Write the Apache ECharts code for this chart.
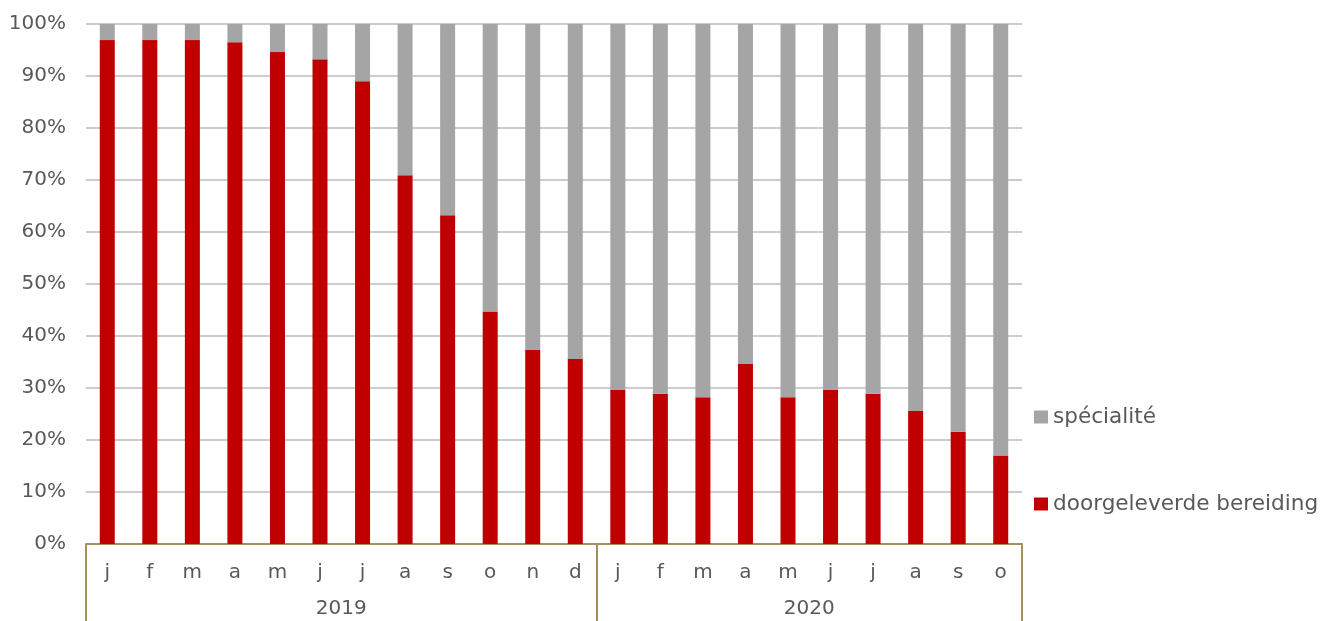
<!DOCTYPE html>
<html>
<head>
<meta charset="utf-8">
<script src="https://cdn.jsdelivr.net/npm/echarts@6/dist/echarts.min.js"></script>
<style>html,body{margin:0;padding:0;background:#fff;}#c{width:1324px;height:621px;}</style>
</head>
<body>
<div id="c"></div>
<script>
const months = ['j','f','m','a','m','j','j','a','s','o','n','d','j','f','m','a','m','j','j','a','s','o'];
const years = ['2019','2020'];
const yearCenters = [6, 17];
const yearBreaks = 12;
const doorgeleverde = [96.9,96.9,96.9,96.5,94.6,93.2,89.0,70.9,63.2,44.7,37.3,35.6,29.6,28.9,28.2,34.6,28.2,29.6,28.9,25.6,21.6,17.0];
const specialite = [3.1,3.1,3.1,3.5,5.4,6.8,11.0,29.1,36.8,55.3,62.7,64.4,70.4,71.1,71.8,65.4,71.8,70.4,71.1,74.4,78.4,83.0];

const FONT = 'DejaVu Sans';
const TXT = '#595959';
const TAN = '#a48f5f';

const chart = echarts.init(document.getElementById('c'));
chart.setOption({
  animation: false,
  backgroundColor: '#ffffff',
  textStyle: { fontFamily: FONT },
  grid: { left: 86, right: 302, top: 24, bottom: 77, containLabel: false },
  legend: {
    orient: 'vertical',
    left: 1029,
    top: 401,
    itemWidth: 14,
    itemHeight: 13,
    itemGap: 65,
    icon: 'rect',
    data: ['spécialité', 'doorgeleverde bereiding'],
    textStyle: { fontFamily: FONT, fontSize: 21.6, color: TXT }
  },
  xAxis: [
    {
      type: 'category',
      data: months,
      axisLine: { show: true, lineStyle: { color: TAN, width: 2 } },
      axisTick: { show: false },
      axisLabel: { color: TXT, fontSize: 20, fontFamily: FONT, margin: 19, interval: 0 },
      splitLine: { show: false }
    },
    {
      type: 'value',
      min: 0, max: 22, interval: yearBreaks,
      position: 'bottom',
      axisLine: { show: false },
      axisTick: { show: true, length: 78, lineStyle: { color: TAN, width: 2 } },
      axisLabel: { show: false },
      splitLine: { show: false }
    },
    {
      type: 'value',
      min: 0, max: 22, interval: 1,
      position: 'bottom',
      axisLine: { show: false },
      axisTick: { show: false },
      axisLabel: {
        color: TXT, fontSize: 20, fontFamily: FONT, margin: 55,
        formatter: function (v) {
          const i = yearCenters.indexOf(v);
          return i >= 0 ? years[i] : '';
        }
      },
      splitLine: { show: false }
    }
  ],
  yAxis: {
    type: 'value',
    min: 0, max: 100, interval: 10,
    axisLine: { show: false },
    axisTick: { show: false },
    axisLabel: { color: TXT, fontSize: 20, fontFamily: FONT, margin: 20, formatter: '{value}%' },
    splitLine: { show: true, lineStyle: { color: '#cccccc', width: 2 } }
  },
  series: [
    {
      name: 'doorgeleverde bereiding',
      type: 'bar',
      stack: 'total',
      barWidth: 15,
      data: doorgeleverde,
      itemStyle: { color: '#c00000' }
    },
    {
      name: 'spécialité',
      type: 'bar',
      stack: 'total',
      barWidth: 15,
      data: specialite,
      itemStyle: { color: '#a5a5a5' }
    }
  ]
});
</script>
</body>
</html>
